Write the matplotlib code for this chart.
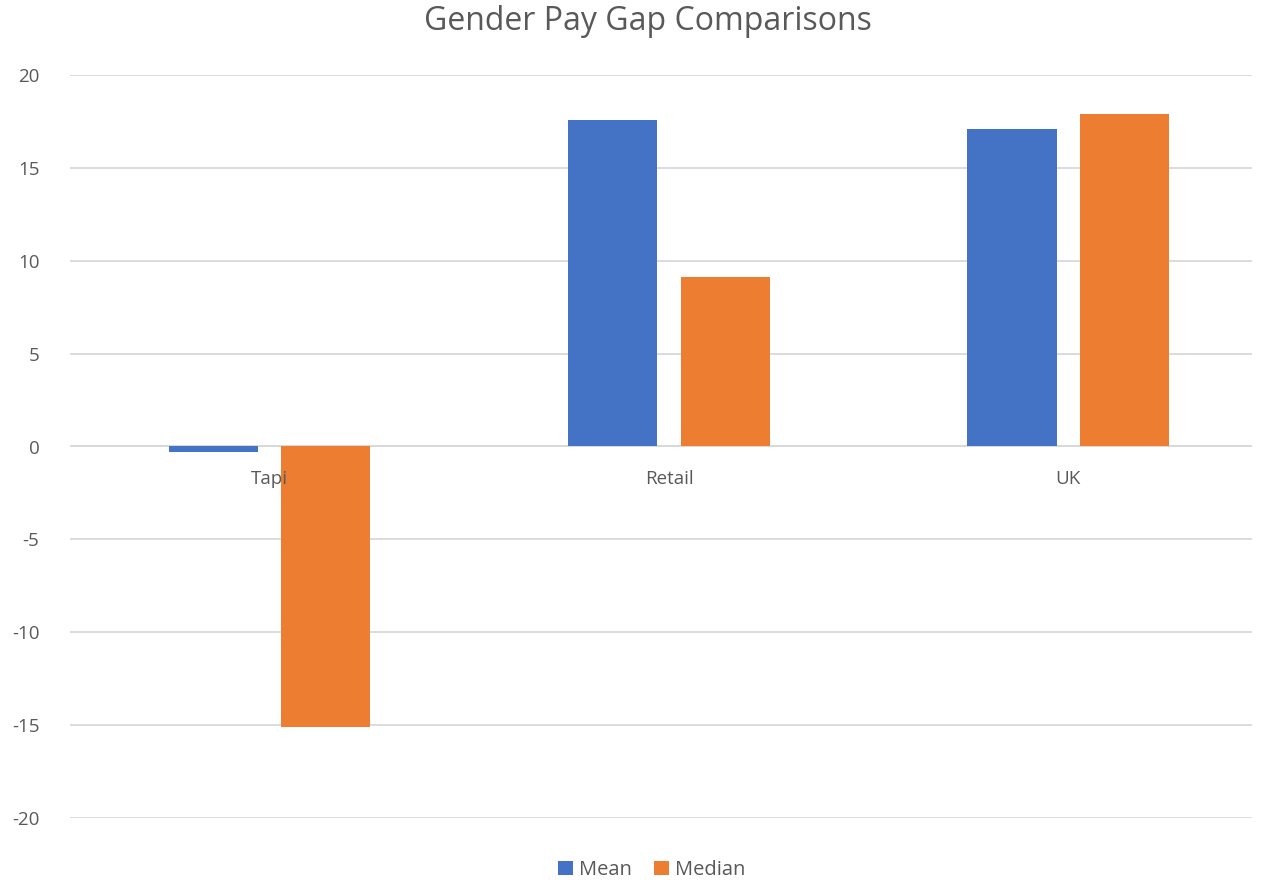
import numpy as np
import matplotlib.pyplot as plt

plt.rcParams['font.family'] = ['Open Sans', 'DejaVu Sans']

categories = ['Tapi', 'Retail', 'UK']
mean_vals = [-0.3, 17.6, 17.1]
median_vals = [-15.1, 9.1, 17.9]
yticks = [-20, -15, -10, -5, 0, 5, 10, 15, 20]

blue = '#4472C4'
orange = '#ED7D31'
grey = '#595959'

fig = plt.figure(figsize=(12.69, 8.8), dpi=100)
ax = fig.add_axes([70 / 1269, 62 / 880, (1252 - 70) / 1269, (818 - 75) / 880])

x = np.arange(len(categories))
w = 0.223
ax.bar(x - 0.141, mean_vals, w, color=blue, label='Mean', zorder=3)
ax.bar(x + 0.141, median_vals, w, color=orange, label='Median', zorder=3)

ax.set_ylim(-20, 20)
ax.set_xlim(-0.5, 2.46)
ax.set_yticks(yticks)
ax.set_yticklabels([str(v) for v in yticks])
ax.grid(axis='y', color='#d9d9d9', linewidth=1.3, zorder=0)
ax.tick_params(axis='y', length=0, pad=22, labelsize=13.5, labelcolor=grey)

# category labels drawn on top of the bars, just under the zero line
ax.set_xticks([])
for xi, cat in zip(x, categories):
    ax.text(xi, -1.75, cat, ha='center', va='center', fontsize=13.5, color=grey, zorder=5)
ax.axhline(0, color='#d9d9d9', linewidth=1.3, zorder=1)
for s in ['top', 'right', 'left', 'bottom']:
    ax.spines[s].set_visible(False)

fig.text(648 / 1269, 1 - 21 / 880, 'Gender Pay Gap Comparisons', ha='center', va='center',
         fontsize=23, color=grey)

fig.legend(loc='center', bbox_to_anchor=(652 / 1269, 1 - 870 / 880), ncol=2, frameon=False,
           fontsize=14.5, labelcolor=grey, handlelength=0.75, handleheight=0.75,
           handletextpad=0.3, columnspacing=1.1)

fig.savefig('out.png', dpi=100)
